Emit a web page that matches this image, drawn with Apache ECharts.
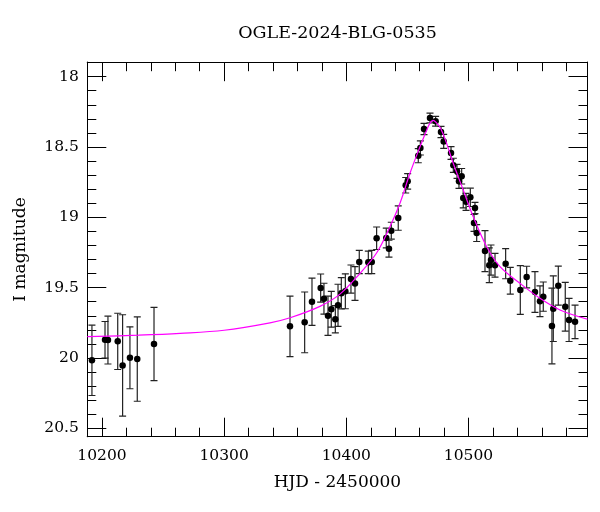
<!DOCTYPE html>
<html><head><meta charset="utf-8">
<script src="https://cdn.jsdelivr.net/npm/echarts@6/dist/echarts.min.js"></script>
<style>html,body{margin:0;padding:0;background:#fff}#c{width:600px;height:512px}</style>
</head><body><div id="c"></div>
<script>
const titleText = 'OGLE-2024-BLG-0535';
const xName = 'HJD - 2450000';
const yName = 'I magnitude';

const hjd = [10191.8, 10202.5, 10204.9, 10212.9, 10216.9, 10222.9, 10228.9, 10242.6,
  10353.9, 10365.9, 10371.9, 10379.0, 10381.7, 10385.0, 10387.7, 10391.0, 10393.2, 10395.9, 10399.2, 10403.8, 10407.1, 10410.6, 10418.0, 10420.8, 10424.8, 10432.7, 10434.9, 10436.8,
  10442.5, 10448.6, 10450.2, 10458.9, 10460.6, 10463.6, 10468.5, 10473.1, 10477.5, 10479.7, 10485.7, 10487.6, 10490.6, 10492.2, 10494.4, 10495.7, 10498.0, 10501.5, 10504.5, 10505.3, 10506.7,
  10513.5, 10517.0, 10518.4, 10521.7, 10530.4, 10534.2, 10542.4, 10547.6, 10554.4, 10558.5, 10561.2, 10568.3, 10569.4, 10573.5, 10579.2, 10582.3, 10587.2];
const mag = [20.017, 19.871, 19.873, 19.882, 20.053, 19.999, 20.008, 19.901,
  19.775, 19.747, 19.600, 19.503, 19.579, 19.700, 19.654, 19.725, 19.626, 19.540, 19.526, 19.439, 19.470, 19.318, 19.320, 19.318, 19.149, 19.147, 19.223, 19.095,
  19.005, 18.772, 18.744, 18.562, 18.507, 18.372, 18.294, 18.317, 18.393, 18.460, 18.543, 18.630, 18.673, 18.744, 18.708, 18.863, 18.890, 18.858, 19.040, 18.934, 19.112,
  19.240, 19.341, 19.304, 19.341, 19.330, 19.451, 19.517, 19.425, 19.531, 19.597, 19.564, 19.773, 19.650, 19.486, 19.636, 19.730, 19.743];
const err = [0.25, 0.13, 0.17, 0.20, 0.36, 0.22, 0.30, 0.26,
  0.215, 0.216, 0.168, 0.10, 0.11, 0.139, 0.127, 0.097, 0.15, 0.111, 0.124, 0.10, 0.12, 0.083, 0.08, 0.083, 0.08, 0.07, 0.06, 0.06,
  0.087, 0.055, 0.055, 0.05, 0.05, 0.04, 0.035, 0.035, 0.04, 0.05, 0.045, 0.05, 0.05, 0.05, 0.055, 0.07, 0.06, 0.065, 0.06, 0.04, 0.06,
  0.146, 0.124, 0.107, 0.085, 0.107, 0.095, 0.173, 0.077, 0.145, 0.109, 0.104, 0.269, 0.233, 0.139, 0.173, 0.153, 0.119];

const modelHjd = [10188, 10230, 10264, 10300, 10337.5, 10354, 10378.4, 10394.8, 10411.2, 10424.9, 10435.7, 10443.9, 10452.1, 10460.3, 10466, 10468.5, 10471, 10473.5, 10477, 10482.1, 10487.5, 10495.7, 10503.9, 10514.9, 10525.8, 10542.1, 10558.5, 10574.9, 10597.4];
const modelMag = [19.849, 19.838, 19.825, 19.803, 19.75, 19.714, 19.633, 19.546, 19.398, 19.252, 19.067, 18.90, 18.687, 18.498, 18.375, 18.33, 18.31, 18.325, 18.365, 18.474, 18.616, 18.806, 18.996, 19.209, 19.351, 19.469, 19.576, 19.659, 19.725];

const xMajorTicks = [10200, 10300, 10400, 10500];
const xMinorTicks = [10200, 10220, 10240, 10260, 10280, 10300, 10320, 10340, 10360, 10380, 10400, 10420, 10440, 10460, 10480, 10500, 10520, 10540, 10560, 10580];
const yMajorTicks = [18, 18.5, 19, 19.5, 20, 20.5];
const yMinorTicks = [18, 18.1, 18.2, 18.3, 18.4, 18.5, 18.6, 18.7, 18.8, 18.9, 19, 19.1, 19.2, 19.3, 19.4, 19.5, 19.6, 19.7, 19.8, 19.9, 20, 20.1, 20.2, 20.3, 20.4, 20.5];

const xMin = 10188, xMax = 10597.4, yMin = 17.897, yMax = 20.56;
const FONT = 'DejaVu Serif';

const gridRect = {left: 87.3, right: 12.5, top: 62.2, bottom: 75.3};

function xAxisDef(grid, pos, ticks, len, labels, withName) {
  return {
    type: 'value', gridIndex: grid, position: pos, min: xMin, max: xMax,
    name: withName ? xName : '', nameLocation: 'middle', nameGap: 37,
    nameTextStyle: {fontFamily: FONT, fontSize: 17, color: '#000'},
    axisLine: {show: true, onZero: false, lineStyle: {color: '#000', width: 1}},
    axisTick: {show: true, inside: true, length: len, customValues: ticks, lineStyle: {color: '#000', width: 1}},
    axisLabel: {show: labels, customValues: ticks, margin: 11, fontFamily: FONT, fontSize: 15.5, color: '#000', formatter: v => String(v)},
    splitLine: {show: false}, minorTick: {show: false}
  };
}
function yAxisDef(grid, pos, ticks, len, labels, withName) {
  return {
    type: 'value', gridIndex: grid, position: pos, min: yMin, max: yMax, inverse: true,
    name: withName ? yName : '', nameLocation: 'middle', nameGap: 58,
    nameTextStyle: {fontFamily: FONT, fontSize: 17, color: '#000'},
    axisLine: {show: true, onZero: false, lineStyle: {color: '#000', width: 1}},
    axisTick: {show: true, inside: true, length: len, customValues: ticks, lineStyle: {color: '#000', width: 1}},
    axisLabel: {show: labels, customValues: ticks, margin: 8.5, fontFamily: FONT, fontSize: 15.5, color: '#000', formatter: v => String(v)},
    splitLine: {show: false}, minorTick: {show: false}
  };
}

const errData = hjd.map((x, i) => [x, mag[i] - err[i], mag[i] + err[i]]);
const ptData = hjd.map((x, i) => [x, mag[i]]);
const modelData = modelHjd.map((x, i) => [x, modelMag[i]]);

const chart = echarts.init(document.getElementById('c'), null, {renderer: 'canvas'});
chart.setOption({
  backgroundColor: '#fff',
  animation: false,
  title: {
    text: titleText, left: 337.5, top: 24, textAlign: 'center', padding: 0,
    textStyle: {fontFamily: FONT, fontSize: 17.5, fontWeight: 'normal', color: '#000'}
  },
  grid: [Object.assign({}, gridRect), Object.assign({}, gridRect)],
  xAxis: [
    xAxisDef(0, 'bottom', xMajorTicks, 19, true, true),
    xAxisDef(0, 'top', xMajorTicks, 19, false, false),
    xAxisDef(1, 'bottom', xMinorTicks, 9, false, false),
    xAxisDef(1, 'top', xMinorTicks, 9, false, false)
  ],
  yAxis: [
    yAxisDef(0, 'left', yMajorTicks, 19, true, true),
    yAxisDef(0, 'right', yMajorTicks, 19, false, false),
    yAxisDef(1, 'left', yMinorTicks, 9, false, false),
    yAxisDef(1, 'right', yMinorTicks, 9, false, false)
  ],
  series: [
    {
      type: 'custom', xAxisIndex: 0, yAxisIndex: 0, clip: true, z: 2,
      data: errData,
      encode: {x: 0, y: [1, 2]},
      renderItem: function (params, api) {
        const x = api.value(0);
        const a = api.coord([x, api.value(1)]);
        const b = api.coord([x, api.value(2)]);
        const w = 3.5;
        const st = {stroke: '#222', lineWidth: 1.2};
        return {type: 'group', children: [
          {type: 'line', shape: {x1: a[0], y1: a[1], x2: b[0], y2: b[1]}, style: st},
          {type: 'line', shape: {x1: a[0] - w, y1: a[1], x2: a[0] + w, y2: a[1]}, style: st},
          {type: 'line', shape: {x1: b[0] - w, y1: b[1], x2: b[0] + w, y2: b[1]}, style: st}
        ]};
      }
    },
    {
      type: 'scatter', xAxisIndex: 0, yAxisIndex: 0, z: 3,
      data: ptData, symbol: 'circle', symbolSize: 6.5,
      itemStyle: {color: '#000', opacity: 1}
    },
    {
      type: 'line', xAxisIndex: 0, yAxisIndex: 0, z: 4,
      data: modelData, showSymbol: false, smooth: 0.35, clip: true,
      lineStyle: {color: '#ff00ff', width: 1.2}
    }
  ]
});
</script>
</body></html>
